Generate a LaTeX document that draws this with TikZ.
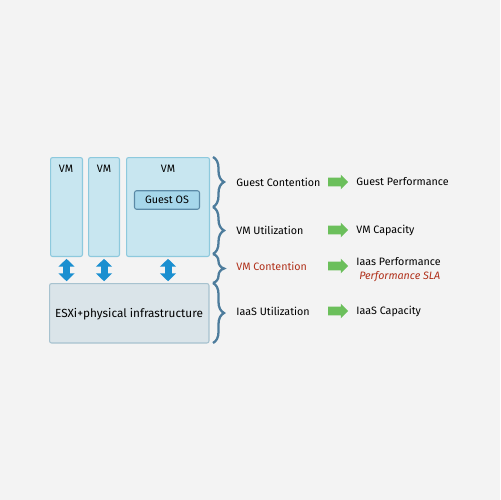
\documentclass[tikz,border=0pt]{standalone}
\usepackage{fontspec}
\setmainfont{Fira Sans}
\usetikzlibrary{arrows.meta,decorations.pathreplacing,shapes.arrows}
\definecolor{bgcol}{HTML}{F3F3F3}
\definecolor{vmfill}{HTML}{C8E6F0}
\definecolor{vmline}{HTML}{8DC9DD}
\definecolor{osfill}{HTML}{A6D7EA}
\definecolor{osline}{HTML}{5B8AA6}
\definecolor{hostfill}{HTML}{DAE4E9}
\definecolor{hostline}{HTML}{A7C2CF}
\definecolor{linkblue}{HTML}{1A8FD0}
\definecolor{bracecol}{HTML}{4D7C9C}
\definecolor{okgreen}{HTML}{6BBF5B}
\definecolor{alertred}{HTML}{B0301A}
\tikzset{
  txt/.style={font=\fontsize{6.1}{7}\selectfont, inner sep=0pt},
  vmbox/.style={draw=vmline, fill=vmfill, line width=0.6pt, rounded corners=1.2pt, anchor=north west, inner sep=0pt},
  osbox/.style={draw=osline, fill=osfill, line width=0.6pt, rounded corners=1.2pt, inner sep=0pt, txt},
  hostbox/.style={draw=hostline, fill=hostfill, line width=0.6pt, rounded corners=1.2pt, anchor=north west, inner sep=0pt},
  link/.style={draw=linkblue, line width=4pt, {Triangle[width=9pt,length=4.5pt]}-{Triangle[width=9pt,length=4.5pt]}, shorten <=1pt, shorten >=1pt},
  layer/.style={draw=bracecol, line width=1.3pt, decorate, decoration={brace, amplitude=0.22cm, aspect=0.5}},
  goarrow/.style={single arrow, fill=okgreen, draw=none, minimum height=0.4cm, inner xsep=0pt, inner ysep=0.08cm, single arrow head extend=0.06cm}
}
\begin{document}
\begin{tikzpicture}[x=0.02cm, y=-0.02cm]
  \fill[bgcol] (0,0) rectangle (500,500);
  \useasboundingbox (0,0) rectangle (500,500);
  % virtual machines
  \node[vmbox, minimum width=0.64cm, minimum height=1.98cm] (vma) at (50,157) {};
  \node[vmbox, minimum width=0.62cm, minimum height=1.98cm] (vmb) at (88,157) {};
  \node[vmbox, minimum width=1.66cm, minimum height=1.98cm] (vmc) at (126,157) {};
  \node[txt] at (66,169) {VM};
  \node[txt] at (104,169) {VM};
  \node[txt] at (168,169) {VM};
  \node[osbox, minimum width=1.3cm, minimum height=0.37cm] (os) at (167,200) {Guest OS};
  % host
  \node[hostbox, minimum width=3.19cm, minimum height=1.19cm] (host) at (49,283) {};
  \node[txt, font=\fontsize{6.7}{8}\selectfont] at (129,314) {ESXi+physical infrastructure};
  \draw[link] (vma.south) -- (vma.south |- host.north);
  \draw[link] (vmb.south) -- (vmb.south |- host.north);
  \draw[link] (vmc.south) -- (vmc.south |- host.north);
  % layers
  \coordinate (b0) at (213,157);
  \coordinate (b1) at (213,207);
  \coordinate (b2) at (213,254);
  \coordinate (b3) at (213,283);
  \coordinate (b4) at (213,343);
  \draw[layer] (b0) -- (b1);
  \draw[layer] (b1) -- (b2);
  \draw[layer] (b2) -- (b3);
  \draw[layer] (b3) -- (b4);
  % metrics
  \node[txt, anchor=west] (gc) at (236,182) {Guest Contention};
  \node[txt, anchor=west] (vu) at (236,230) {VM Utilization};
  \node[txt, anchor=west, text=alertred] (vc) at (236,266) {VM Contention};
  \node[txt, anchor=west] (iu) at (236,311) {IaaS Utilization};
  \node[goarrow] (ga) at (336,182) {};
  \node[goarrow] (gb) at (336,230) {};
  \node[goarrow] (gcc) at (336,266) {};
  \node[goarrow] (gd) at (336,311) {};
  \node[txt, anchor=west] (gp) at (356,182) {Guest Performance};
  \node[txt, anchor=west] (vcap) at (356,230) {VM Capacity};
  \node[txt, anchor=west] (ip) at (356,262) {Iaas Performance};
  \node[txt, anchor=west, text=alertred, font=\fontsize{6.1}{7}\selectfont\itshape] (sla) at (359,277) {Performance SLA};
  \node[txt, anchor=west] (icap) at (356,311) {IaaS Capacity};
\end{tikzpicture}
\end{document}
